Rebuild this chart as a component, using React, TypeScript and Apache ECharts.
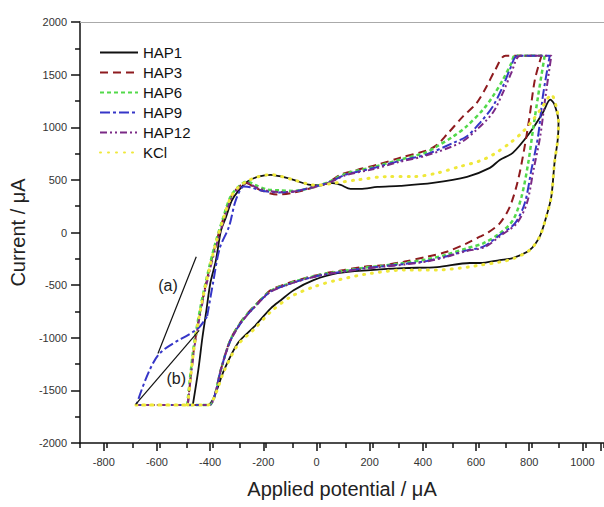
import React, { useEffect, useRef } from "react";
import * as echarts from "echarts";

const seriesNames = ["HAP1", "HAP3", "HAP6", "HAP9", "HAP12", "KCl"];

const hap1: number[][] = [
  [-476, -1640], [-455, -1300], [-440, -1000], [-426, -760], [-410, -480], [-389, -262],
  [-370, 20], [-351, 148], [-330, 300], [-307, 389], [-270, 484], [-230, 530], [-183, 548],
  [-140, 530], [-97, 500], [-33, 452], [0, 450], [42, 471], [80, 452], [117, 414], [154, 414],
  [218, 433], [304, 443], [427, 471], [555, 529], [641, 614], [678, 690], [727, 757],
  [791, 948], [840, 1138], [868, 1262], [884, 1214], [899, 1043], [896, 881], [884, 662],
  [872, 341], [853, 150], [828, -40], [791, -167], [727, -243], [678, -262], [603, -290],
  [566, -290], [443, -329], [315, -338], [192, -357], [68, -386], [-22, -452], [-97, -548],
  [-145, -643], [-182, -719], [-246, -897], [-307, -1052], [-359, -1310], [-396, -1564],
  [-420, -1640], [-476, -1640],
];

const hap3: number[][] = [
  [-495, -1640], [-471, -1090], [-445, -710], [-415, -360], [-389, -100], [-359, 150],
  [-332, 340], [-302, 436], [-275, 470], [-250, 440], [-220, 400], [-158, 360], [-95, 380],
  [-33, 420], [30, 469], [80, 550], [142, 595], [217, 643], [304, 710], [404, 780],
  [441, 830], [479, 930], [540, 1103], [591, 1230], [629, 1389], [660, 1540], [700, 1680],
  [835, 1680], [810, 1450], [790, 1100], [772, 820], [747, 500], [716, 245], [678, 87],
  [629, -8], [603, -40], [554, -103], [479, -183], [404, -230], [317, -278], [241, -310],
  [167, -326], [92, -357], [17, -389], [-58, -436], [-120, -484], [-183, -548], [-230, -660],
  [-290, -830], [-335, -1020], [-370, -1300], [-395, -1560], [-414, -1640], [-495, -1640],
];

const hap6: number[][] = [
  [-497, -1640], [-473, -1090], [-447, -707], [-417, -357], [-391, -100], [-361, 148],
  [-334, 341], [-304, 436], [-272, 484], [-240, 450], [-200, 410], [-150, 400], [-95, 395],
  [-33, 425], [30, 475], [100, 560], [200, 620], [300, 690], [400, 760], [441, 817],
  [503, 912], [553, 1008], [615, 1167], [652, 1293], [690, 1452], [722, 1611], [735, 1680],
  [847, 1680], [822, 1293], [803, 976], [785, 659], [760, 341], [728, 119], [678, -8],
  [616, -103], [554, -150], [479, -210], [404, -255], [317, -290], [241, -315], [167, -335],
  [92, -365], [17, -395], [-58, -440], [-120, -490], [-183, -555], [-230, -665], [-290, -835],
  [-335, -1025], [-370, -1300], [-395, -1560], [-414, -1640], [-497, -1640],
];

const hap9: number[][] = [
  [-422, -795], [-400, -480], [-375, -150], [-340, 55], [-314, 310], [-284, 436],
  [-260, 430], [-220, 400], [-150, 380], [-95, 390], [-33, 425], [30, 470], [100, 550],
  [200, 610], [300, 680], [400, 740], [503, 852], [553, 912], [603, 1040], [652, 1198],
  [690, 1389], [716, 1548], [745, 1680], [866, 1680], [840, 1293], [822, 912], [797, 595],
  [772, 278], [735, 87], [678, -24], [616, -135], [554, -170], [479, -225], [404, -270],
  [317, -300], [241, -320], [167, -340], [92, -370], [17, -400], [-58, -445], [-120, -495],
  [-183, -560], [-230, -670], [-290, -840], [-335, -1030], [-370, -1300], [-395, -1560],
  [-414, -1640], [-688, -1640], [-607, -1167], [-457, -912], [-422, -795],
];

const hap12: number[][] = [
  [-495, -1640], [-470, -1090], [-443, -707], [-412, -357], [-385, -100], [-355, 148],
  [-328, 341], [-298, 436], [-268, 470], [-240, 430], [-200, 400], [-150, 385], [-95, 390],
  [-33, 425], [30, 468], [100, 545], [200, 600], [300, 670], [400, 730], [529, 852],
  [591, 976], [652, 1138], [690, 1329], [722, 1519], [755, 1680], [872, 1680], [850, 1293],
  [830, 912], [805, 595], [780, 278], [742, 87], [685, -24], [620, -140], [554, -175],
  [479, -230], [404, -275], [317, -305], [241, -325], [167, -345], [92, -372], [17, -402],
  [-58, -447], [-120, -497], [-183, -562], [-230, -672], [-290, -842], [-335, -1032],
  [-370, -1300], [-395, -1560], [-414, -1640], [-690, -1640], [-495, -1640],
];

const kcl: number[][] = [
  [-495, -1640], [-471, -1088], [-445, -707], [-415, -357], [-389, -100], [-359, 148],
  [-332, 341], [-302, 436], [-270, 490], [-230, 530], [-183, 550], [-140, 530], [-97, 500],
  [-33, 455], [0, 450], [55, 469], [142, 500], [254, 531], [354, 531], [441, 564],
  [529, 627], [603, 680], [653, 740], [716, 849], [760, 945], [800, 1060], [840, 1200],
  [872, 1310], [890, 1200], [899, 1043], [896, 881], [884, 662], [872, 341], [853, 150],
  [828, -40], [791, -167], [727, -250], [678, -280], [603, -310], [566, -326], [441, -357],
  [317, -357], [192, -389], [67, -452], [-21, -516], [-108, -611], [-183, -754],
  [-246, -920], [-307, -1070], [-359, -1320], [-396, -1570], [-420, -1640], [-690, -1640],
  [-495, -1640],
];

const annotationLineA: number[][] = [[-463, -230], [-607, -1150]];
const annotationLineB: number[][] = [[-691, -1633], [-452, -929]];
const annotationLabels: (number | string)[][] = [[-569, -500, "(a)"], [-538, -1386, "(b)"]];

const FONT = "'Liberation Sans', Arial, sans-serif";

export default function App() {
  const ref = useRef<HTMLDivElement>(null);
  useEffect(() => {
    if (!ref.current) return;
    const chart = echarts.init(ref.current, null, { renderer: "svg" });
    const xMin = -900;
    const xMax = 1070;
    const pxPerUnit = (604 - 77) / (xMax - xMin);
    const majorMin = -800;
    const lineSeries = (name: string, data: number[][], color: string, width: number, type: any, cap = "butt") => ({
      name,
      type: "line",
      data,
      xAxisIndex: 0,
      yAxisIndex: 0,
      symbol: "none",
      showSymbol: false,
      smooth: 0.3,
      lineStyle: { color, width, type, cap },
      itemStyle: { color },
      silent: true,
    });
    chart.setOption({
      animation: false,
      backgroundColor: "#ffffff",
      grid: [
        { left: 77, right: 0, top: 22, bottom: 64 },
        { left: 77 + (majorMin - xMin) * pxPerUnit, right: 0, top: 22, bottom: 64 },
      ],
      legend: {
        data: seriesNames,
        orient: "vertical",
        left: 94,
        top: 40,
        itemWidth: 38,
        itemHeight: 14,
        itemGap: 5,
        itemStyle: { opacity: 0 },
        textStyle: { fontSize: 15, color: "#111", fontFamily: FONT, lineHeight: 14 },
      },
      xAxis: [
        {
          type: "value",
          gridIndex: 0,
          min: xMin,
          max: xMax,
          interval: 100,
          position: "bottom",
          splitLine: { show: false },
          axisLine: { onZero: false, lineStyle: { color: "#111", width: 1.5 } },
          axisTick: { length: 5, lineStyle: { color: "#111", width: 1.5 } },
          axisLabel: { show: false },
          name: "Applied potential / μA",
          nameLocation: "middle",
          nameGap: 36,
          nameTextStyle: { fontSize: 20, color: "#222", fontFamily: FONT },
        },
        {
          type: "value",
          gridIndex: 1,
          min: majorMin,
          max: xMax,
          interval: 200,
          position: "bottom",
          splitLine: { show: false },
          axisLine: { show: false, onZero: false },
          axisTick: { length: 8, lineStyle: { color: "#111", width: 1.5 } },
          axisLabel: {
            formatter: (v: number) => (v <= 1000 ? String(v) : ""),
            fontSize: 11,
            color: "#333",
            fontFamily: FONT,
            margin: 13,
          },
        },
        {
          type: "value",
          gridIndex: 0,
          min: xMin,
          max: xMax,
          position: "top",
          splitLine: { show: false },
          axisLine: { onZero: false, lineStyle: { color: "#aaa", width: 1 } },
          axisTick: { show: false },
          axisLabel: { show: false },
        },
      ],
      yAxis: [
        {
          type: "value",
          gridIndex: 0,
          min: -2000,
          max: 2000,
          interval: 500,
          position: "left",
          splitLine: { show: false },
          axisLine: { show: true, onZero: false, lineStyle: { color: "#111", width: 1.5 } },
          axisTick: { show: true, length: 9, lineStyle: { color: "#111", width: 1.5 } },
          minorTick: { show: true, splitNumber: 2, length: 5, lineStyle: { color: "#111", width: 1.5 } },
          axisLabel: {
            formatter: (v: number) => String(v),
            fontSize: 11,
            color: "#333",
            fontFamily: FONT,
            margin: 13,
          },
          name: "Current / μA",
          nameLocation: "middle",
          nameGap: 45,
          nameTextStyle: { fontSize: 20, color: "#222", fontFamily: FONT },
        },
        {
          type: "value",
          gridIndex: 1,
          min: -2000,
          max: 2000,
          show: false,
        },
      ],
      series: [
        lineSeries("HAP1", hap1, "#111111", 1.8, "solid"),
        lineSeries("HAP3", hap3, "#8e1b1f", 2, [8, 5]),
        lineSeries("HAP6", hap6, "#52d94a", 2.5, [4, 3]),
        lineSeries("HAP9", hap9, "#3636c8", 2, [10, 3, 3, 3]),
        lineSeries("HAP12", hap12, "#7b2a86", 2, [7, 3, 2, 3, 2, 3]),
        lineSeries("KCl", kcl, "#efe83a", 3, [1, 7], "round"),
        {
          name: "annA",
          type: "line",
          data: annotationLineA,
          symbol: "none",
          lineStyle: { color: "#111", width: 1.2 },
          silent: true,
        },
        {
          name: "annB",
          type: "line",
          data: annotationLineB,
          symbol: "none",
          lineStyle: { color: "#111", width: 1.2 },
          silent: true,
        },
        {
          name: "labels",
          type: "scatter",
          data: annotationLabels,
          symbolSize: 0,
          silent: true,
          itemStyle: { color: "#222" },
          label: {
            show: true,
            position: "inside",
            formatter: (p: any) => p.value[2],
            fontSize: 16,
            color: "#222",
            opacity: 1,
            fontFamily: FONT,
          },
        },
      ],
    });
    return () => chart.dispose();
  }, []);
  return <div ref={ref} style={{ position: "absolute", left: 0, top: 0, width: 604, height: 507 }} />;
}
